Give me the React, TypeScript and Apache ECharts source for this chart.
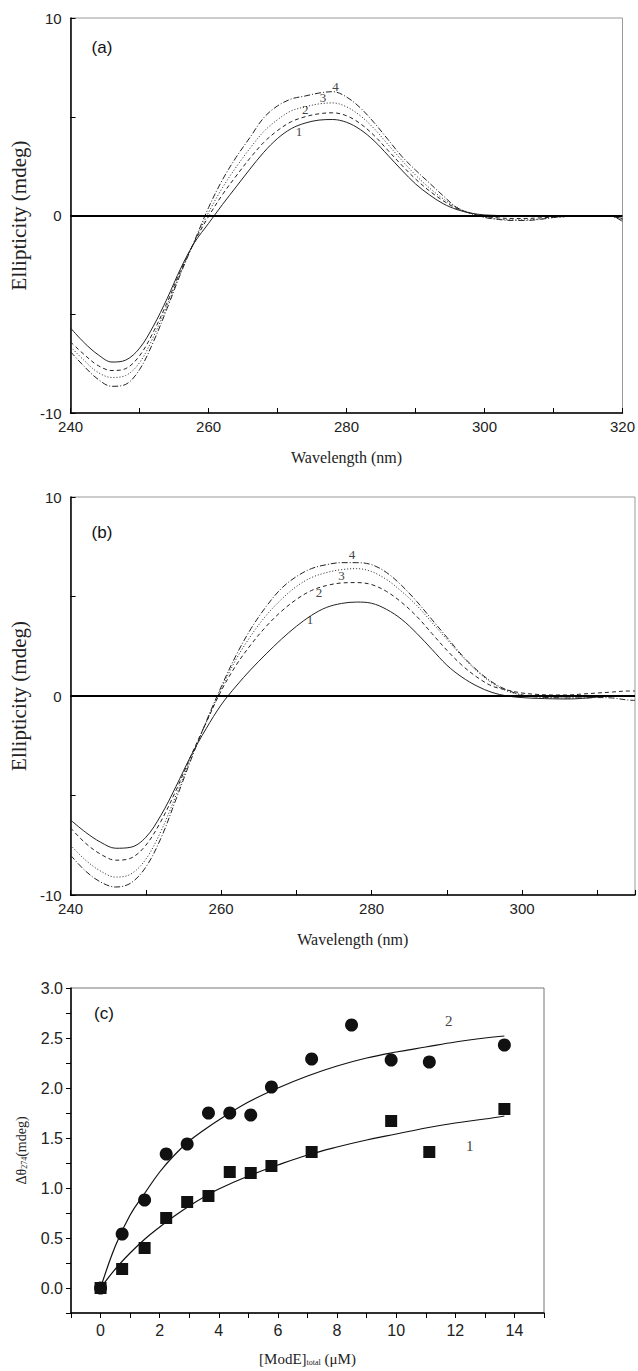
import React, { useEffect, useRef } from 'react';
import * as echarts from 'echarts';

// ---------- Panel (a) ----------
const wavelengthA = [240,242,244,246,248,250,252,254,256,258,260,262,264,266,268,270,272,274,276,278,280,282,284,286,288,290,292,294,296,298,300,302,304,306,308,310,312,314,316,318,320];
const a1 = [-5.70,-6.45,-7.05,-7.42,-7.32,-6.72,-5.60,-4.20,-2.65,-1.35,-0.40,0.55,1.45,2.35,3.20,3.90,4.40,4.68,4.83,4.86,4.72,4.35,3.78,3.05,2.30,1.60,1.05,0.60,0.30,0.12,0.03,0.00,-0.03,-0.05,-0.05,-0.04,-0.02,0.00,0.00,-0.02,-0.15];
const a2 = [-6.40,-7.05,-7.60,-7.85,-7.75,-7.10,-5.90,-4.40,-2.75,-1.30,-0.05,1.05,2.00,2.90,3.70,4.30,4.75,5.00,5.15,5.20,5.05,4.65,4.05,3.30,2.55,1.85,1.25,0.75,0.35,0.12,-0.05,-0.12,-0.15,-0.15,-0.12,-0.08,-0.04,-0.02,0.00,0.00,-0.20];
const a3 = [-6.65,-7.35,-7.95,-8.20,-8.10,-7.45,-6.15,-4.55,-2.85,-1.28,0.15,1.40,2.45,3.40,4.25,4.85,5.30,5.50,5.65,5.70,5.50,5.05,4.40,3.60,2.80,2.05,1.40,0.85,0.40,0.12,-0.08,-0.18,-0.22,-0.22,-0.18,-0.10,-0.05,-0.02,0.00,0.00,-0.25];
const a4 = [-6.90,-7.65,-8.30,-8.65,-8.55,-7.80,-6.40,-4.70,-2.90,-1.25,0.40,1.80,2.95,3.95,4.95,5.55,5.90,6.05,6.20,6.27,6.00,5.45,4.70,3.85,3.00,2.30,1.65,1.00,0.40,0.10,-0.10,-0.20,-0.25,-0.25,-0.20,-0.10,-0.05,-0.02,0.00,0.00,-0.30];
const labelsA: [number, number, string][] = [[273.1,4.26,'1'],[274.0,5.38,'2'],[276.6,5.99,'3'],[278.4,6.55,'4']];

// ---------- Panel (b) ----------
const wavelengthB = [240,242,244,246,248,250,252,254,256,258,260,262,264,266,268,270,272,274,276,278,280,282,284,286,288,290,292,294,296,298,300,302,304,306,308,310,312,314,315];
const b1 = [-6.23,-6.85,-7.35,-7.65,-7.60,-7.10,-6.00,-4.55,-3.00,-1.65,-0.45,0.50,1.35,2.12,2.85,3.50,4.05,4.45,4.65,4.72,4.66,4.35,3.85,3.15,2.35,1.55,0.95,0.50,0.18,0.00,-0.08,-0.12,-0.14,-0.15,-0.12,-0.05,0.00,0.00,0.00];
const b2 = [-6.63,-7.40,-7.95,-8.25,-8.15,-7.50,-6.30,-4.75,-3.00,-1.35,0.25,1.55,2.60,3.50,4.25,4.85,5.30,5.55,5.68,5.70,5.60,5.25,4.70,4.00,3.15,2.30,1.55,0.95,0.50,0.30,0.15,0.08,0.05,0.05,0.10,0.15,0.20,0.25,0.25];
const b3 = [-7.50,-8.25,-8.80,-9.10,-8.95,-8.20,-6.80,-5.00,-3.10,-1.35,0.35,1.85,3.05,4.05,4.85,5.50,5.95,6.20,6.35,6.40,6.25,5.85,5.25,4.55,3.70,2.85,2.00,1.25,0.65,0.25,0.05,-0.02,-0.05,-0.05,-0.05,-0.03,0.00,0.00,0.00];
const b4 = [-8.00,-8.80,-9.35,-9.60,-9.40,-8.60,-7.15,-5.20,-3.20,-1.30,0.45,2.05,3.40,4.50,5.40,6.00,6.40,6.60,6.70,6.70,6.60,6.20,5.55,4.75,3.85,2.95,2.05,1.30,0.70,0.30,0.05,-0.05,-0.08,-0.10,-0.10,-0.08,-0.10,-0.20,-0.22];
const labelsB: [number, number, string][] = [[271.8,3.82,'1'],[273.0,5.18,'2'],[276.0,6.08,'3'],[277.4,7.09,'4']];

// ---------- Panel (c) ----------
const concCircles = [0,0.73,1.49,2.22,2.93,3.65,4.37,5.08,5.78,7.14,8.49,9.83,11.12,13.66];
const circles = [0,0.54,0.88,1.34,1.44,1.75,1.75,1.73,2.01,2.29,2.63,2.28,2.26,2.43];
const concSquares = [0,0.73,1.49,2.22,2.93,3.65,4.37,5.08,5.78,7.14,9.83,11.12,13.66];
const squares = [0,0.19,0.40,0.70,0.86,0.92,1.16,1.15,1.22,1.36,1.67,1.36,1.79];
const fitX = [0,0.5,1,1.5,2,2.5,3,3.5,4,5,6,7,8,9,10,11,12,13,13.66];
const fit2 = [0,0.42,0.73,0.95,1.16,1.33,1.47,1.58,1.68,1.86,2.00,2.12,2.22,2.30,2.36,2.41,2.46,2.50,2.52];
const fit1 = [0,0.19,0.35,0.49,0.61,0.72,0.82,0.91,0.99,1.12,1.23,1.33,1.41,1.48,1.54,1.60,1.65,1.69,1.72];
const labelsC: [number, number, string][] = [[11.78,2.67,'2'],[12.49,1.42,'1']];

const SANS = '"Liberation Sans", Arial, sans-serif';
const SERIF = '"Liberation Serif", "Times New Roman", serif';
const lineTypes: any[] = ['solid', [4, 3], [1, 2], [6, 2, 1, 2]];

function pairs(xs: number[], ys: number[]) {
  return xs.map((x, i) => [x, ys[i]]);
}

export default function App() {
  const ref = useRef<HTMLDivElement>(null);
  useEffect(() => {
    document.body.style.margin = '0';
    const chart = echarts.init(ref.current!, null, { renderer: 'svg' });

    const specGrid = (idx: number, xmax: number) => ({
      xAxis: {
        gridIndex: idx, type: 'value', min: 240, max: xmax, interval: 10,
        name: 'Wavelength (nm)', nameLocation: 'middle', nameGap: 36,
        nameTextStyle: { fontFamily: SERIF, fontSize: 16, color: '#222' },
        axisLine: { show: true, onZero: false, lineStyle: { color: '#000', width: 1.5 } },
        axisTick: { show: true, inside: true, length: 5, lineStyle: { color: '#000', width: 1 } },
        axisLabel: { fontFamily: SANS, fontSize: 15, color: '#222', margin: 6,
          formatter: (v: number) => (v % 20 === 0 ? String(v) : '') },
        splitLine: { show: false },
      },
      yAxis: {
        gridIndex: idx, type: 'value', min: -10, max: 10, interval: 5,
        name: 'Ellipticity (mdeg)', nameLocation: 'middle', nameGap: 38,
        nameTextStyle: { fontFamily: SERIF, fontSize: 21, color: '#222' },
        axisLine: { show: true, onZero: false, lineStyle: { color: '#000', width: 1.5 } },
        axisTick: { show: true, inside: true, length: 5, lineStyle: { color: '#000', width: 1 } },
        axisLabel: { fontFamily: SANS, fontSize: 15, color: '#222', margin: 9,
          formatter: (v: number) => (v % 10 === 0 ? String(v) : '') },
        splitLine: { show: false },
      },
    });
    const ga = specGrid(0, 320);
    const gb = specGrid(1, 315);

    const curveSeries = (idx: number, xs: number[], ys: number[][]) =>
      ys.map((arr, i) => ({
        type: 'line', xAxisIndex: idx, yAxisIndex: idx,
        data: pairs(xs, arr), showSymbol: false, smooth: 0.35, silent: true,
        itemStyle: { color: '#222' },
        lineStyle: { color: '#222', width: 1, type: lineTypes[i] },
        ...(i === 0 ? {
          markLine: {
            silent: true, symbol: ['none', 'none'], label: { show: false },
            lineStyle: { color: '#000', width: 2, type: 'solid' },
            data: [{ yAxis: 0 }],
          },
        } : {}),
      }));

    chart.setOption({
      animation: false,
      backgroundColor: '#fff',
      grid: [
        { left: 67, top: 18, width: 558, height: 395, show: true, borderColor: '#999', borderWidth: 1 },
        { left: 68, top: 497, width: 567, height: 398, show: true, borderColor: '#999', borderWidth: 1 },
        { left: 71, top: 988, width: 473, height: 325, show: true, borderColor: '#777', borderWidth: 1 },
      ],
      xAxis: [
        ga.xAxis, gb.xAxis,
        {
          gridIndex: 2, type: 'value', min: -1, max: 15, interval: 1,
          name: '[ModE]{sub|total} (μM)', nameLocation: 'middle', nameGap: 38,
          nameTextStyle: { fontFamily: SERIF, fontSize: 15, color: '#222',
            rich: { sub: { fontFamily: SERIF, fontSize: 8, color: '#222', verticalAlign: 'bottom', padding: [6, 0, 0, 0] } } },
          axisLine: { show: true, onZero: false, lineStyle: { color: '#000', width: 1.5 } },
          axisTick: { show: true, inside: false, length: 5, lineStyle: { color: '#000', width: 1 } },
          axisLabel: { fontFamily: SANS, fontSize: 16, color: '#222', margin: 9,
            formatter: (v: number) => (v >= 0 && v % 2 === 0 ? String(v) : '') },
          splitLine: { show: false },
        },
      ],
      yAxis: [
        ga.yAxis, gb.yAxis,
        {
          gridIndex: 2, type: 'value', min: -0.25, max: 3, interval: 0.25,
          name: 'Δθ{sub|274}(mdeg)', nameLocation: 'middle', nameGap: 43,
          nameTextStyle: { fontFamily: SERIF, fontSize: 14, color: '#222',
            rich: { sub: { fontFamily: SERIF, fontSize: 8, color: '#222', verticalAlign: 'bottom', padding: [6, 0, 0, 0] } } },
          axisLine: { show: true, onZero: false, lineStyle: { color: '#000', width: 1.5 } },
          axisTick: { show: true, inside: false, length: 5, lineStyle: { color: '#000', width: 1 } },
          axisLabel: { fontFamily: SANS, fontSize: 16, color: '#222', margin: 8,
            formatter: (v: number) => {
              const d = v * 2;
              return v >= 0 && Math.abs(d - Math.round(d)) < 1e-6 ? v.toFixed(1) : '';
            } },
          splitLine: { show: false },
        },
      ],
      series: [
        ...curveSeries(0, wavelengthA, [a1, a2, a3, a4]),
        ...curveSeries(1, wavelengthB, [b1, b2, b3, b4]),
        {
          type: 'line', xAxisIndex: 2, yAxisIndex: 2, data: pairs(fitX, fit2),
          showSymbol: false, smooth: 0.4, silent: true, itemStyle: { color: '#111' },
          lineStyle: { color: '#111', width: 1.2 },
        },
        {
          type: 'line', xAxisIndex: 2, yAxisIndex: 2, data: pairs(fitX, fit1),
          showSymbol: false, smooth: 0.4, silent: true, itemStyle: { color: '#111' },
          lineStyle: { color: '#111', width: 1.2 },
        },
        {
          type: 'scatter', xAxisIndex: 2, yAxisIndex: 2, data: pairs(concCircles, circles),
          symbol: 'circle', symbolSize: 13, itemStyle: { color: '#111', opacity: 1 }, silent: true,
        },
        {
          type: 'scatter', xAxisIndex: 2, yAxisIndex: 2, data: pairs(concSquares, squares),
          symbol: 'rect', symbolSize: 12, itemStyle: { color: '#111', opacity: 1 }, silent: true,
        },
      ],
    });

    // curve-number labels placed in data coordinates via the chart's own scales
    const labelTexts: any[] = [];
    const addLabels = (gridIndex: number, labels: [number, number, string][], size: number) => {
      labels.forEach(([x, y, t]) => {
        const p = chart.convertToPixel({ gridIndex } as any, [x, y]) as number[];
        labelTexts.push({
          type: 'text', x: p[0], y: p[1], silent: true,
          style: { text: t, font: `${size}px ${SERIF}`, fill: '#444', align: 'center', verticalAlign: 'middle' },
        });
      });
    };
    addLabels(0, labelsA, 13);
    addLabels(1, labelsB, 13);
    addLabels(2, labelsC, 15);

    chart.setOption({
      graphic: [
        { type: 'text', x: 102, y: 47, style: { text: '(a)', font: `17px ${SANS}`, fill: '#111', align: 'center', verticalAlign: 'middle' } },
        { type: 'text', x: 102, y: 532, style: { text: '(b)', font: `17px ${SANS}`, fill: '#111', align: 'center', verticalAlign: 'middle' } },
        { type: 'text', x: 104, y: 1013, style: { text: '(c)', font: `17px ${SANS}`, fill: '#111', align: 'center', verticalAlign: 'middle' } },
        ...labelTexts,
      ],
    });
    return () => chart.dispose();
  }, []);
  return <div ref={ref} style={{ width: 638, height: 1371 }} />;
}
